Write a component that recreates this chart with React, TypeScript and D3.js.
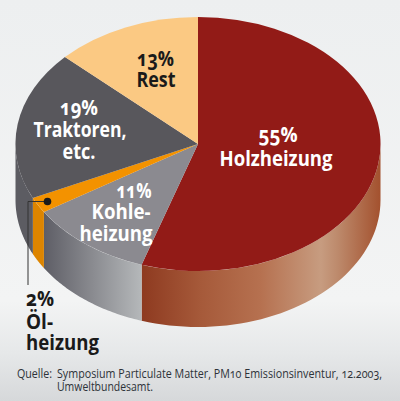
import React from "react";
import * as d3 from "d3";

const categories = ["Holzheizung", "Kohleheizung", "Ölheizung", "Traktoren, etc.", "Rest"];
const shares = [55, 11, 2, 19, 13];
const topColors = ["#921b17", "#8b8a90", "#f39200", "#58575c", "#fbc983"];
const sideStops: [number, string][][] = [
  [[0, "#8e3a20"], [0.25, "#a65a3a"], [0.5, "#b67150"], [0.75, "#c79c80"], [0.82, "#bd8a6c"], [1, "#a3512e"]],
  [[0, "#5e5e66"], [0.5, "#8a8b90"], [1, "#b5b8ba"]],
  [[0, "#dd8500"], [1, "#dd8500"]],
  [[0, "#5c5c62"], [1, "#5c5c62"]],
  [[0, "#6f6f75"], [0.65, "#9a9b9f"], [1, "#86868c"]],
];

const W = 400, H = 401;
const cx = 198, cy = 144, rx = 182.5, ry = 127, depth = 56;

const arcs = d3.pie<number>().sort(null)(shares);
const arcGen = d3.arc<d3.PieArcDatum<number>>().innerRadius(0).outerRadius(1);
const px = (a: number) => cx + rx * Math.sin(a);
const py = (a: number, dy = 0) => cy - ry * Math.cos(a) + dy;

const wallPath = (a0: number, a1: number) => {
  const s = Math.max(a0, Math.PI / 2), e = Math.min(a1, (3 * Math.PI) / 2);
  if (e <= s) return null;
  const n = 48;
  const angles = d3.range(n + 1).map((i) => s + ((e - s) * i) / n);
  const pts: [number, number][] = [
    ...angles.map((a) => [px(a), py(a)] as [number, number]),
    ...angles.slice().reverse().map((a) => [px(a), py(a, depth)] as [number, number]),
  ];
  return { d: d3.line()(pts) + "Z", x0: Math.min(px(s), px(e)), x1: Math.max(px(s), px(e)) };
};

const font = "'Open Sans', sans-serif";
const bold = { fontFamily: font, fontWeight: 700, fontFeatureSettings: "'onum'" } as const;
const plain = { fontFamily: font, fontFeatureSettings: "'onum'" } as const;

type Lab = { x: number; y: number; t: string; fill: string; anchor?: string; len: number };
const size = 20.5;
const labels: Lab[] = [
  { x: 278, y: 142, t: "55%", fill: "#fff", len: 39 },
  { x: 276, y: 166, t: "Holzheizung", fill: "#fff", len: 113 },
  { x: 155.5, y: 66, t: "13%", fill: "#1a1a1a", len: 37 },
  { x: 156, y: 87, t: "Rest", fill: "#1a1a1a", len: 39 },
  { x: 79, y: 115, t: "19%", fill: "#fff", len: 38 },
  { x: 80, y: 137, t: "Traktoren,", fill: "#fff", len: 93 },
  { x: 79, y: 159, t: "etc.", fill: "#fff", len: 33 },
  { x: 134, y: 198, t: "11%", fill: "#fff", len: 35 },
  { x: 121, y: 219, t: "Kohle-", fill: "#fff", len: 59 },
  { x: 116, y: 241, t: "heizung", fill: "#fff", len: 73 },
  { x: 26, y: 306, t: "2%", fill: "#1a1a1a", anchor: "start", len: 28 },
  { x: 26, y: 329, t: "Öl-", fill: "#1a1a1a", anchor: "start", len: 27 },
  { x: 26, y: 350, t: "heizung", fill: "#1a1a1a", anchor: "start", len: 73 },
];

export default function App() {
  const walls = arcs.map((a) => wallPath(a.startAngle, a.endAngle));
  return (
    <svg width={W} height={H} style={{ position: "absolute", left: 0, top: 0 }}>
      <defs>
        <linearGradient id="bg" x1="0" x2="0" y1="0" y2="1">
          <stop offset="0" stopColor="#edeff0" />
          <stop offset="0.75" stopColor="#f3f4f4" />
          <stop offset="0.88" stopColor="#e6e8e9" />
          <stop offset="1" stopColor="#d6d8da" />
        </linearGradient>
        {walls.map((w, i) =>
          w ? (
            <linearGradient key={i} id={`w${i}`} gradientUnits="userSpaceOnUse" x1={w.x0} x2={w.x1} y1={0} y2={0}>
              {sideStops[i].map(([o, c], j) => (
                <stop key={j} offset={o} stopColor={c} />
              ))}
            </linearGradient>
          ) : null
        )}
      </defs>
      <rect width={W} height={H} fill="url(#bg)" />
      {walls.map((w, i) => (w ? <path key={i} d={w.d} fill={`url(#w${i})`} /> : null))}
      <g transform={`translate(${cx},${cy}) scale(${rx},${ry})`}>
        {arcs.map((a, i) => (
          <path key={i} d={arcGen(a) as string} fill={topColors[i]} />
        ))}
      </g>
      <polyline points="47,201.5 28,201.5 28,285" fill="none" stroke="#333" strokeWidth={1} />
      <circle cx={47.5} cy={201.5} r={3.8} fill="#1a1a1a" />
      {labels.map((l, i) => (
        <text key={i} x={l.x} y={l.y} fill={l.fill} fontSize={size} textAnchor={(l.anchor as any) ?? "middle"} style={bold}
          textLength={l.len} lengthAdjust="spacingAndGlyphs">
          {l.t}
        </text>
      ))}
      <text x={17} y={378} fontSize={12} fill="#2d3238" style={plain} textLength={35} lengthAdjust="spacingAndGlyphs">Quelle:</text>
      <text x={57} y={378} fontSize={12} fill="#2d3238" style={plain} textLength={325} lengthAdjust="spacingAndGlyphs">Symposium Particulate Matter, PM10 Emissionsinventur, 12.2003,</text>
      <text x={57} y={391} fontSize={12} fill="#2d3238" style={plain} textLength={96} lengthAdjust="spacingAndGlyphs">Umweltbundesamt.</text>
    </svg>
  );
}
